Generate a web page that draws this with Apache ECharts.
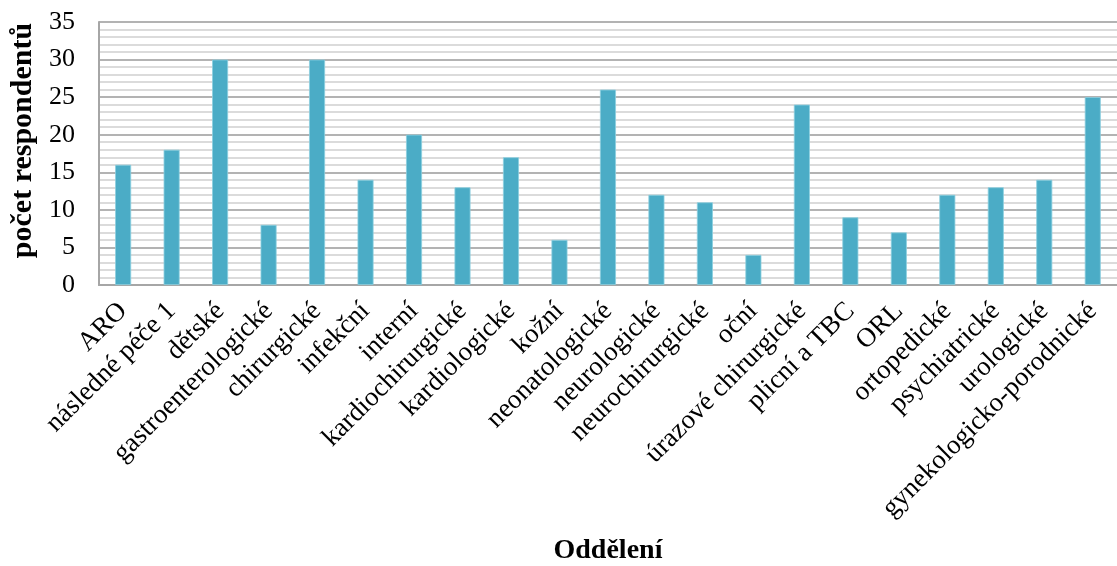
<!DOCTYPE html>
<html>
<head>
<meta charset="utf-8">
<script src="https://cdn.jsdelivr.net/npm/echarts@6/dist/echarts.min.js"></script>
<style>
  html, body { margin: 0; padding: 0; background: #ffffff; }
  #chart { width: 1117px; height: 566px; }
</style>
</head>
<body>
<div id="chart"></div>
<script>
// Departments (Oddělení) and number of respondents from each
const departments = [
  'ARO', 'následné péče 1', 'dětské', 'gastroenterologické', 'chirurgické',
  'infekční', 'interní', 'kardiochirurgické', 'kardiologické', 'kožní',
  'neonatologické', 'neurologické', 'neurochirurgické', 'oční',
  'úrazové chirurgické', 'plicní a TBC', 'ORL', 'ortopedické',
  'psychiatrické', 'urologické', 'gynekologicko-porodnické'
];
const respondents = [16, 18, 30, 8, 30, 14, 20, 13, 17, 6, 26, 12, 11, 4, 24, 9, 7, 12, 13, 14, 25];

const yMin = 0;
const yMax = 35;
const yStep = 5;

const serif = '"Liberation Serif", "Times New Roman", serif';

const chart = echarts.init(document.getElementById('chart'), null, { renderer: 'canvas' });
chart.setOption({
  animation: false,
  backgroundColor: '#ffffff',
  grid: { left: 96, right: -10, top: 22, bottom: 280 },
  xAxis: {
    type: 'category',
    data: departments,
    name: 'Oddělení',
    nameLocation: 'middle',
    nameGap: 252,
    nameTextStyle: { fontFamily: serif, fontWeight: 'bold', fontSize: 28, color: '#000' },
    axisLine: { show: true, lineStyle: { color: '#a6a6a6', width: 2 } },
    axisTick: { show: false },
    axisLabel: {
      interval: 0,
      rotate: 45,
      margin: 22,
      fontFamily: serif,
      fontSize: 27,
      color: '#000'
    },
    splitLine: { show: false }
  },
  yAxis: {
    type: 'value',
    min: yMin,
    max: yMax,
    interval: yStep,
    name: 'počet respondentů',
    nameLocation: 'middle',
    nameGap: 52,
    nameTextStyle: {
      fontFamily: serif, fontWeight: 'bold', fontSize: 30, color: '#000',
      padding: [0, 0, 0, 26]
    },
    axisLine: { show: true, lineStyle: { color: '#a6a6a6', width: 2 } },
    axisTick: { show: false },
    axisLabel: { fontFamily: serif, fontSize: 26, color: '#000', margin: 24 },
    splitLine: { show: true, lineStyle: { color: '#9a9a9a', width: 1.5 } },
    minorTick: { show: false, splitNumber: 5 },
    minorSplitLine: { show: true, lineStyle: { color: '#cfcfcf', width: 1.5 } }
  },
  series: [{
    type: 'bar',
    data: respondents,
    barWidth: '33%',
    itemStyle: { color: '#4bacc6', borderColor: '#8ccfe0', borderWidth: 0.8 },
    emphasis: { disabled: true }
  }]
});
</script>
</body>
</html>
